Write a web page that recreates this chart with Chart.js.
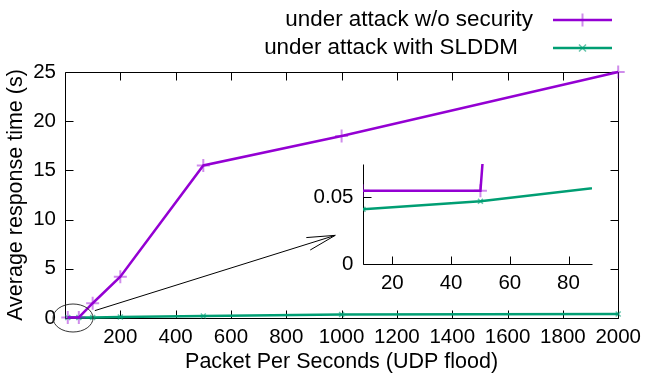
<!DOCTYPE html>
<html>
<head>
<meta charset="utf-8">
<script src="https://cdn.jsdelivr.net/npm/chart.js@4.4.0/dist/chart.umd.min.js"></script>
<style>
  html, body { margin: 0; padding: 0; background: #fff; overflow: hidden; }
  #wrap { position: relative; width: 648px; height: 378px; }
  #inset { position: absolute; left: 300px; top: 140px; }
</style>
</head>
<body>
<div id="wrap">
  <canvas id="main" width="648" height="378"></canvas>
  <canvas id="inset" width="320" height="160"></canvas>
</div>
<script>
// Packets per second (x) and average response time in seconds (y)
const pps = [10, 50, 100, 200, 500, 1000, 2000];
const noSecurity = [0.055, 0.055, 1.5, 4.2, 15.5, 18.5, 25];
const withSlddm = [0.041, 0.047, 0.06, 0.1, 0.2, 0.35, 0.4];
const seriesLabels = ['under attack w/o security', 'under attack with SLDDM'];

// Tick labels
const xTicks = [200, 400, 600, 800, 1000, 1200, 1400, 1600, 1800, 2000];
const yTicks = [0, 5, 10, 15, 20, 25];
const insetXTicks = [20, 40, 60, 80];
const insetYTicks = [0, 0.05];

const PURPLE = '#9400d3';
const GREEN = '#009e73';
const FONT = 'Liberation Sans';

Chart.defaults.color = '#000';
Chart.defaults.font.family = FONT;

function points(ys) {
    return pps.map((x, i) => ({ x: x, y: ys[i] }));
}

function makeDatasets(clip) {
    return [
        {
            label: seriesLabels[0],
            data: points(noSecurity),
            borderColor: PURPLE,
            borderWidth: 2.5,
            pointStyle: 'cross',
            pointRadius: 6.5,
            pointBorderWidth: 2,
            pointBorderColor: 'rgba(148,0,211,0.45)',
            clip: clip
        },
        {
            label: seriesLabels[1],
            data: points(withSlddm),
            borderColor: GREEN,
            borderWidth: 2.5,
            pointStyle: 'crossRot',
            pointRadius: 3.5,
            pointBorderWidth: 1.5,
            pointBorderColor: 'rgba(0,158,115,0.6)',
            clip: clip
        }
    ];
}

function setTicks(values) {
    return scale => { scale.ticks = values.map(v => ({ value: v })); };
}

// Border and inward tick marks, gnuplot style
const frame = {
    id: 'frame',
    beforeDatasetsDraw(chart, args, o) {
        const ctx = chart.ctx;
        const a = chart.chartArea;
        const xs = chart.scales.x, ys = chart.scales.y;
        const L = Math.round(a.left) + 0.5, R = Math.round(a.right) + 0.5;
        const T = Math.round(a.top) + 0.5, B = Math.round(a.bottom) + 0.5;
        ctx.save();
        ctx.strokeStyle = '#000';
        ctx.lineWidth = 1;
        ctx.beginPath();
        ctx.moveTo(L, T);
        ctx.lineTo(L, B);
        ctx.lineTo(R, B);
        if (o.mirror) {
            ctx.lineTo(R, T);
            ctx.closePath();
        }
        xs.ticks.forEach(t => {
            const px = Math.round(xs.getPixelForValue(t.value)) + 0.5;
            ctx.moveTo(px, B);
            ctx.lineTo(px, B - o.len);
            if (o.mirror) {
                ctx.moveTo(px, T);
                ctx.lineTo(px, T + o.len);
            }
        });
        ys.ticks.forEach(t => {
            const py = Math.round(ys.getPixelForValue(t.value)) + 0.5;
            ctx.moveTo(L, py);
            ctx.lineTo(L + o.len, py);
            if (o.mirror) {
                ctx.moveTo(R, py);
                ctx.lineTo(R - o.len, py);
            }
        });
        ctx.stroke();
        ctx.restore();
    }
};

// Legend at the top right, text first and sample after
const keyBox = {
    id: 'keyBox',
    afterDraw(chart, args, o) {
        const ctx = chart.ctx;
        ctx.save();
        chart.data.datasets.forEach((ds, i) => {
            const y = o.top + i * o.row;
            ctx.font = o.size + 'px ' + FONT;
            ctx.fillStyle = '#000';
            ctx.textAlign = 'right';
            ctx.textBaseline = 'alphabetic';
            ctx.fillText(ds.label, o.textRight[i], y + 6);

            ctx.strokeStyle = ds.borderColor;
            ctx.lineWidth = ds.borderWidth;
            ctx.beginPath();
            ctx.moveTo(o.lineFrom, y);
            ctx.lineTo(o.lineTo, y);
            ctx.stroke();

            const cx = (o.lineFrom + o.lineTo) / 2;
            const r = ds.pointRadius;
            ctx.strokeStyle = ds.pointBorderColor;
            ctx.lineWidth = ds.pointBorderWidth;
            ctx.beginPath();
            if (ds.pointStyle === 'cross') {
                ctx.moveTo(cx - r, y); ctx.lineTo(cx + r, y);
                ctx.moveTo(cx, y - r); ctx.lineTo(cx, y + r);
            } else {
                ctx.moveTo(cx - r, y - r); ctx.lineTo(cx + r, y + r);
                ctx.moveTo(cx - r, y + r); ctx.lineTo(cx + r, y - r);
            }
            ctx.stroke();
        });
        ctx.restore();
    }
};

// Ellipse round the origin and arrow towards the zoomed view
const zoomHint = {
    id: 'zoomHint',
    afterDatasetsDraw(chart, args, o) {
        const ctx = chart.ctx;
        const xs = chart.scales.x, ys = chart.scales.y;
        ctx.save();
        ctx.strokeStyle = '#333';
        ctx.lineWidth = 1;
        ctx.beginPath();
        ctx.ellipse(xs.getPixelForValue(o.ring.x), ys.getPixelForValue(o.ring.y), o.ring.rx, o.ring.ry, 0, 0, Math.PI * 2);
        ctx.stroke();

        const x1 = xs.getPixelForValue(o.from.x), y1 = ys.getPixelForValue(o.from.y);
        const x2 = xs.getPixelForValue(o.to.x), y2 = ys.getPixelForValue(o.to.y);
        const back = Math.atan2(y1 - y2, x1 - x2);
        const spread = 13 * Math.PI / 180;
        ctx.strokeStyle = '#000';
        ctx.beginPath();
        ctx.moveTo(x1, y1);
        ctx.lineTo(x2, y2);
        ctx.moveTo(x2 + o.head * Math.cos(back + spread), y2 + o.head * Math.sin(back + spread));
        ctx.lineTo(x2, y2);
        ctx.lineTo(x2 + o.head * Math.cos(back - spread), y2 + o.head * Math.sin(back - spread));
        ctx.stroke();
        ctx.restore();
    }
};

const plainLabel = v => String(v);

new Chart(document.getElementById('main'), {
    type: 'line',
    data: { datasets: makeDatasets(false) },
    options: {
        responsive: false,
        animation: false,
        events: [],
        layout: { padding: { top: 72, right: 26, left: 0, bottom: 0 } },
        scales: {
            x: {
                type: 'linear',
                min: 0,
                max: 2000,
                afterBuildTicks: setTicks(xTicks),
                afterFit: s => { s.height = 60; },
                grid: { display: false, drawTicks: false },
                border: { display: false },
                ticks: { padding: 7, font: { size: 20.5 }, callback: plainLabel, maxRotation: 0, autoSkip: false },
                title: {
                    display: true,
                    text: 'Packet Per Seconds (UDP flood)',
                    font: { size: 21.5 },
                    padding: { top: 0, bottom: 3 }
                }
            },
            y: {
                type: 'linear',
                min: 0,
                max: 25,
                afterBuildTicks: setTicks(yTicks),
                afterFit: s => { s.width = 65; },
                grid: { display: false, drawTicks: false },
                border: { display: false },
                ticks: { padding: 9, font: { size: 20.5 }, callback: plainLabel },
                title: {
                    display: true,
                    text: 'Average response time (s)',
                    font: { size: 21.5 },
                    padding: { top: 3, bottom: 0 }
                }
            }
        },
        plugins: {
            legend: { display: false },
            tooltip: { enabled: false },
            frame: { mirror: true, len: 8 },
            keyBox: { top: 20, row: 28, size: 22.4, textRight: [533, 518], lineFrom: 553, lineTo: 612 },
            zoomHint: {
                ring: { x: 29, y: 0, rx: 20, ry: 14 },
                from: { x: 108, y: 0.75 },
                to: { x: 977, y: 8.4 },
                head: 29
            }
        }
    },
    plugins: [frame, keyBox, zoomHint]
});

// Zoomed view of the low rates
new Chart(document.getElementById('inset'), {
    type: 'line',
    data: { datasets: makeDatasets(undefined) },
    options: {
        responsive: false,
        animation: false,
        events: [],
        layout: { padding: { top: 24, right: 28, left: 0, bottom: 0 } },
        scales: {
            x: {
                type: 'linear',
                min: 10,
                max: 88,
                afterBuildTicks: setTicks(insetXTicks),
                afterFit: s => { s.height = 36; },
                grid: { display: false, drawTicks: false },
                border: { display: false },
                ticks: { padding: 7, font: { size: 20.5 }, callback: plainLabel, maxRotation: 0, autoSkip: false }
            },
            y: {
                type: 'linear',
                min: 0,
                max: 0.075,
                afterBuildTicks: setTicks(insetYTicks),
                afterFit: s => { s.width = 63; },
                grid: { display: false, drawTicks: false },
                border: { display: false },
                ticks: { padding: 9.5, font: { size: 20.5 }, callback: plainLabel }
            }
        },
        plugins: {
            legend: { display: false },
            tooltip: { enabled: false },
            frame: { mirror: false, len: 8 }
        }
    },
    plugins: [frame]
});
</script>
</body>
</html>
